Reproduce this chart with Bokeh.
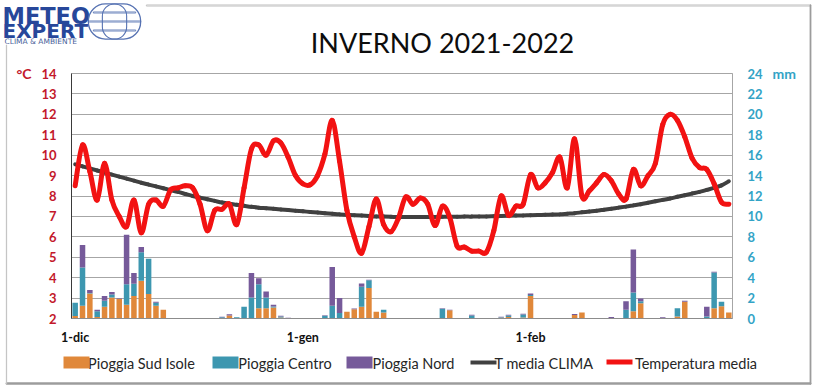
import numpy as np
from bokeh.plotting import figure
from bokeh.models import (Range1d, LinearAxis, FixedTicker, ColumnDataSource, Label)
from bokeh.embed import file_html
from bokeh.resources import INLINE

# ---------------- data ----------------
days = list(range(90))                      # 1 dic 2021 .. 28 feb 2022
x_tick_days = [0, 31, 62]
x_tick_labels = ["1-dic", "1-gen", "1-feb"]
temp_ticks = list(range(2, 15))
mm_ticks = list(range(0, 25, 2))
series_names = ["Pioggia Sud Isole", "Pioggia Centro", "Pioggia Nord",
                "T media CLIMA", "Temperatura media"]

pioggia_sud = [0.25, 1.25, 2.45, 0.15, 1.15, 2.05, 1.9, 1.35, 2.2, 3.7,
               2.4, 1.25, 0.85, 0, 0, 0, 0, 0.03, 0.03, 0,
               0.05, 0.3, 0, 0.05, 0.05, 1.0, 1.0, 1.08, 0.1, 0.03,
               0, 0, 0, 0.02, 0.05, 0.05, 0.05, 0.65, 0.9, 1.14,
               3.0, 0.65, 0.6, 0, 0, 0, 0, 0, 0, 0,
               0.05, 0.8, 0.02, 0, 0.05, 0, 0, 0, 0.08, 0.15,
               0, 0.1, 2.2, 0.02, 0, 0.02, 0, 0, 0.35, 0.6,
               0, 0, 0, 0, 0, 0.05, 0.7, 1.5, 0, 0,
               0, 0, 0.2, 1.65, 0, 0, 0, 1.0, 1.2, 0.6]
pioggia_centro = [1.3, 3.75, 0.05, 0.55, 0.6, 0.3, 0, 2.0, 1.2, 2.8,
                  3.45, 0.3, 0, 0, 0, 0, 0, 0, 0, 0,
                  0.08, 0, 0.13, 1.1, 2.0, 2.35, 1.05, 0.1, 0.1, 0.02,
                  0, 0, 0, 0.02, 0.22, 1.2, 0.5, 0, 0, 1.96,
                  0.75, 0, 0.25, 0, 0, 0, 0, 0, 0, 0,
                  0.9, 0, 0, 0, 0.25, 0, 0, 0, 0.04, 0.15,
                  0, 0.3, 0.1, 0.02, 0, 0.02, 0, 0, 0, 0,
                  0, 0, 0, 0, 0, 0.8, 1.85, 0.2, 0, 0,
                  0, 0, 0.8, 0, 0, 0, 0.2, 3.5, 0.45, 0]
pioggia_nord = [0, 2.2, 0.3, 0.15, 0.45, 0.25, 0.06, 4.85, 1.05, 0.5,
                0, 0.1, 0, 0, 0, 0, 0, 0.03, 0.03, 0,
                0.03, 0.12, 0, 0, 2.4, 0.6, 0.6, 0.16, 0.06, 0.02,
                0, 0, 0, 0.02, 0.06, 3.8, 1.45, 0, 0.08, 0.33,
                0.05, 0, 0, 0, 0, 0, 0, 0, 0, 0,
                0.05, 0.05, 0.02, 0, 0.06, 0, 0, 0, 0.04, 0.06,
                0, 0.06, 0.15, 0.02, 0, 0.02, 0, 0, 0.1, 0,
                0, 0, 0, 0.15, 0, 0.85, 4.2, 0.25, 0, 0,
                0.13, 0, 0, 0.08, 0, 0, 0.95, 0.07, 0, 0]
t_media_clima = [9.55, 9.45, 9.35, 9.25, 9.15, 9.05, 8.95, 8.85, 8.75, 8.65,
                 8.56, 8.47, 8.38, 8.29, 8.2, 8.1, 8.0, 7.92, 7.84, 7.76,
                 7.68, 7.62, 7.57, 7.52, 7.47, 7.43, 7.4, 7.37, 7.34, 7.31,
                 7.28, 7.25, 7.22, 7.19, 7.16, 7.13, 7.1, 7.08, 7.06, 7.04,
                 7.02, 7.0, 6.99, 6.98, 6.97, 6.97, 6.97, 6.97, 6.97, 6.97,
                 6.98, 6.98, 6.98, 6.99, 6.99, 7.0, 7.0, 7.01, 7.02, 7.03,
                 7.04, 7.05, 7.06, 7.07, 7.08, 7.09, 7.1, 7.13, 7.16, 7.2,
                 7.24, 7.28, 7.33, 7.38, 7.43, 7.48, 7.54, 7.6, 7.67, 7.74,
                 7.81, 7.88, 7.96, 8.04, 8.12, 8.2, 8.3, 8.4, 8.52, 8.72]
temperatura_media = [8.5, 10.5, 9.2, 7.8, 9.6, 7.8, 7.0, 6.5, 7.8, 6.2,
                     7.6, 7.8, 7.5, 8.3, 8.4, 8.5, 8.4, 7.6, 6.3, 7.3,
                     7.35, 7.6, 6.6, 8.4, 10.3, 10.5, 10.0, 10.7, 10.6, 9.9,
                     9.0, 8.6, 8.55, 9.0, 10.05, 11.7, 9.7, 7.3, 6.0, 5.2,
                     6.5, 7.85, 6.6, 6.25, 6.9, 7.95, 7.6, 7.9, 7.6, 6.55,
                     7.5, 6.95, 5.55, 5.5, 5.3, 5.3, 5.25, 6.3, 8.0, 7.05,
                     7.5, 7.6, 9.05, 8.4, 8.65, 9.15, 9.9, 8.4, 10.8, 8.0,
                     8.25, 8.65, 9.05, 8.75, 8.1, 7.85, 9.3, 8.5, 9.0, 9.6,
                     11.5, 12.0, 11.7, 10.9, 9.85, 9.4, 9.3, 8.6, 7.7, 7.6]

# ---------------- styling ----------------
C_SUD, C_CENTRO, C_NORD = "#e0883a", "#3d97b0", "#765a9a"
C_CLIMA, C_TEMP = "#404040", "#f21212"
C_LEFT, C_RIGHT = "#c3182b", "#33a3c6"
FONT = "Lato"
LOGO = "#27479a"
GLOBE = "#5672b2"

W, H = 815, 392
FL, FT, FW, FH = 71, 73, 661, 245   # plot frame on the page


def X(rx):
    return round((rx - FL) / (FW / 90.0) - 0.5, 3)


def Y(ry):
    return 2 + (FT + FH - ry) / (FH / 12.0)


p = figure(frame_width=FW, frame_height=FH,
           min_border_left=FL, min_border_right=W - FL - FW,
           min_border_top=FT, min_border_bottom=H - FT - FH,
           x_range=Range1d(-0.5, 89.5), y_range=Range1d(2, 14),
           output_backend="svg", toolbar_location=None,
           background_fill_color="white", border_fill_color="white",
           outline_line_color="#a6a6a6")
p.extra_y_ranges = {"mm": Range1d(0, 24)}


def plain(axis, standoff, color, size, bold=True):
    axis.axis_line_color = None
    axis.major_tick_line_color = None
    axis.minor_tick_line_color = None
    axis.major_tick_out = 0
    axis.major_tick_in = 0
    axis.minor_tick_out = 0
    axis.minor_tick_in = 0
    axis.major_label_standoff = standoff
    axis.major_label_text_color = color
    axis.major_label_text_font = FONT
    axis.major_label_text_font_style = "bold" if bold else "normal"
    axis.major_label_text_font_size = size


yl = p.yaxis[0]
yl.ticker = FixedTicker(ticks=temp_ticks)
plain(yl, 15, C_LEFT, "13px")
yl.axis_line_color = "#3a3a3a"

yl_unit = LinearAxis(ticker=FixedTicker(ticks=[14]),
                     major_label_overrides={14: "°C"})
plain(yl_unit, 7, C_LEFT, "14px")
p.add_layout(yl_unit, "left")

yr = LinearAxis(y_range_name="mm", ticker=FixedTicker(ticks=mm_ticks))
plain(yr, 15, C_RIGHT, "13px")
yr.axis_line_color = "#a6a6a6"
p.add_layout(yr, "right")

yr_unit = LinearAxis(y_range_name="mm", ticker=FixedTicker(ticks=[24]),
                     major_label_overrides={24: "mm"})
plain(yr_unit, 7, C_RIGHT, "14px")
p.add_layout(yr_unit, "right")

xa = p.xaxis[0]
xa.ticker = FixedTicker(ticks=x_tick_days)
xa.major_label_overrides = {d: t for d, t in zip(x_tick_days, x_tick_labels)}
plain(xa, 11, "#111111", "12.5px")
xa.axis_line_color = "#8c8c8c"

p.xgrid.visible = False
p.ygrid.ticker = FixedTicker(ticks=temp_ticks)
p.ygrid.grid_line_color = "#a6a6a6"

src = ColumnDataSource(dict(day=days, sud=pioggia_sud, centro=pioggia_centro,
                            nord=pioggia_nord))
bars = p.vbar_stack(["sud", "centro", "nord"], x="day", width=0.75, source=src,
                    fill_color=[C_SUD, C_CENTRO, C_NORD], line_color=None,
                    y_range_name="mm")


def bezier_source(xs, ys):
    """Excel-style smoothed line: cubic bezier segments through the data points."""
    xs = np.asarray(xs, float)
    ys = np.asarray(ys, float)
    n = len(xs)
    i = np.arange(n - 1)
    im1 = np.clip(i - 1, 0, n - 1)
    ip1 = i + 1
    ip2 = np.clip(i + 2, 0, n - 1)
    return ColumnDataSource(dict(
        x0=xs[i], y0=ys[i], x1=xs[ip1], y1=ys[ip1],
        cx0=xs[i] + (xs[ip1] - xs[im1]) / 6.0,
        cy0=ys[i] + (ys[ip1] - ys[im1]) / 6.0,
        cx1=xs[ip1] - (xs[ip2] - xs[i]) / 6.0,
        cy1=ys[ip1] - (ys[ip2] - ys[i]) / 6.0))


clima = p.bezier(x0="x0", y0="y0", x1="x1", y1="y1", cx0="cx0", cy0="cy0",
                 cx1="cx1", cy1="cy1", source=bezier_source(days, t_media_clima),
                 line_color=C_CLIMA, line_width=4, line_cap="round")
temp = p.bezier(x0="x0", y0="y0", x1="x1", y1="y1", cx0="cx0", cy0="cy0",
                cx1="cx1", cy1="cy1", source=bezier_source(days, temperatura_media),
                line_color=C_TEMP, line_width=5, line_cap="round")

# ---------- key below the chart (series names + colour swatches) ----------
name_centres = [X(141), X(284.5), X(413), X(543.5), X(695.5)]
swatch_centres = [X(76), X(225), X(359), X(483), X(619)]

key_text = LinearAxis(ticker=FixedTicker(ticks=name_centres),
                      major_label_overrides=dict(zip(name_centres, series_names)))
plain(key_text, 7, "#262626", "14.5px", bold=False)
p.add_layout(key_text, "below")


def swatch_axis(xc, color, tin, tout):
    """Zero-height axis whose single minor tick is drawn as a key swatch."""
    ax = LinearAxis(ticker=FixedTicker(ticks=[xc], minor_ticks=[xc]),
                    major_label_overrides={xc: ""})
    ax.axis_line_color = None
    ax.major_label_standoff = 0
    ax.major_label_text_font_size = "0px"
    ax.major_tick_line_color = None
    ax.major_tick_in = 0
    ax.major_tick_out = 0
    ax.minor_tick_line_color = color
    ax.minor_tick_line_width = 26
    ax.minor_tick_in = tin
    ax.minor_tick_out = tout
    p.add_layout(ax, "below")


swatch_axis(swatch_centres[0], C_SUD, 18, -6)
swatch_axis(swatch_centres[1], C_CENTRO, 18, -6)
swatch_axis(swatch_centres[2], C_NORD, 18, -6)
swatch_axis(swatch_centres[3], C_CLIMA, 14, -10)
swatch_axis(swatch_centres[4], C_TEMP, 15, -10)

# ---------- title and logo texts (side panels: not clipped by the frame) ----------
p.add_layout(Label(x=X(442), y=Y(41.5), text="INVERNO 2021-2022",
                   text_align="center", text_baseline="alphabetic",
                   text_font=FONT, text_font_size="27px",
                   text_color="#0d0d0d"), "above")
p.add_layout(Label(x=X(2), y=Y(15.5), text="METEO", text_align="left",
                   text_baseline="alphabetic", text_font="DejaVu Sans",
                   text_font_style="bold", text_font_size="22.5px",
                   text_color=LOGO), "above")
p.add_layout(Label(x=X(4), y=Y(41), text="CLIMA & AMBIENTE", text_align="left",
                   text_baseline="alphabetic", text_font="DejaVu Sans",
                   text_font_size="7.5px", text_color="#4a5f9a"), "above")
p.add_layout(Label(x=X(2), y=Y(30.5), text="EXPERT", text_align="left",
                   text_baseline="alphabetic", text_font="DejaVu Sans",
                   text_font_style="bold", text_font_size="20px",
                   text_color=LOGO), "below")


# ---------- decorative outlines: chart border and logo globe ----------
def outline_box(cx, cy, half_w, half_h, color, width, panel, radius=0):
    lab = Label(x=X(cx), y=Y(cy), text=" ", text_align="center",
                text_baseline="middle", text_font_size="1px",
                border_line_color=color, border_line_width=width,
                background_fill_color=None)
    lab.padding = (int(half_w), int(half_h))     # (horizontal, vertical)
    if radius:
        lab.border_radius = int(radius)
    p.add_layout(lab, panel)


try:
    outline_box(478, 5, 332, 0, "#c4c4c4", 1, "below")      # top edge
    outline_box(408, 383, 402, 0, "#9c9c9c", 1.5, "below")   # bottom edge
    outline_box(6, 214, 0, 169, "#c4c4c4", 1, "right")      # left edge
    outline_box(810, 194, 0, 189, "#9c9c9c", 1.5, "right")  # right edge
    outline_box(114, 21, 26, 17, GLOBE, 1.3, "below", radius=17)
    outline_box(114, 21, 12, 17, GLOBE, 1.1, "below", radius=12)
    outline_box(114, 21, 26, 0, GLOBE, 0.8, "below")
    outline_box(114, 12, 21, 0, GLOBE, 0.8, "below")
    outline_box(114, 30, 21, 0, GLOBE, 0.8, "below")
except Exception:
    pass

open("out.html", "w").write(file_html(p, INLINE))
